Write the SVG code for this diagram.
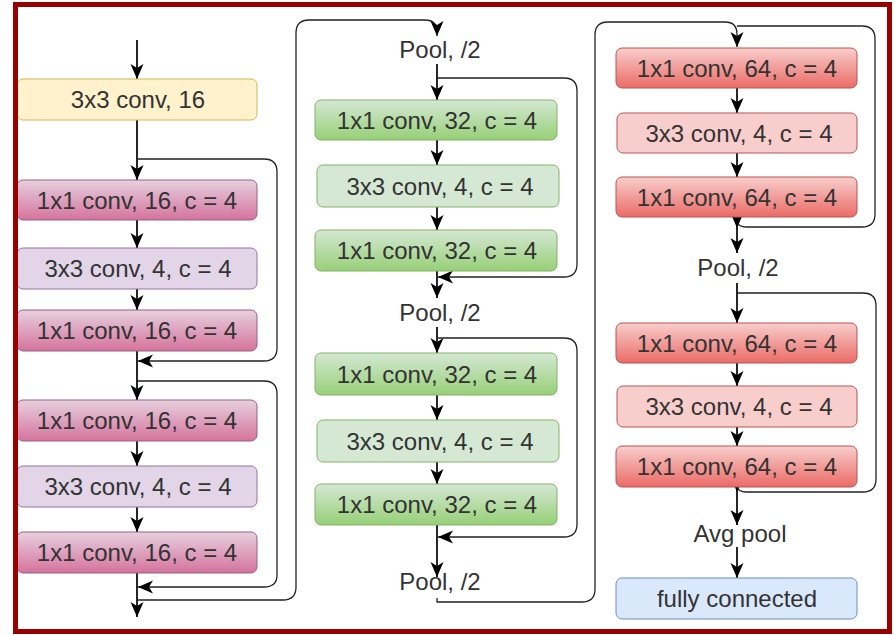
<svg xmlns="http://www.w3.org/2000/svg" width="895" height="635" viewBox="0 0 895 635">
<style>
.t{font-family:"Liberation Sans",Arial,sans-serif;font-size:24px;fill:#333;text-anchor:middle}
.main{fill:none;stroke:#000;stroke-width:1.7}
.skip{fill:none;stroke:#222;stroke-width:1.3}
</style>
<defs>
<marker id="ah" markerUnits="userSpaceOnUse" markerWidth="16" markerHeight="16" viewBox="0 0 16 16" refX="15" refY="8" orient="auto">
<path d="M0,1.5 L15,8 L0,14.5 L4,8 Z" fill="#000"/>
</marker>
<linearGradient id="gPink" x1="0" y1="0" x2="0" y2="1"><stop offset="0" stop-color="#e6d0de"/><stop offset="1" stop-color="#d5739d"/></linearGradient>
<linearGradient id="gGreen" x1="0" y1="0" x2="0" y2="1"><stop offset="0" stop-color="#d5e8d4"/><stop offset="1" stop-color="#97d077"/></linearGradient>
<linearGradient id="gRed" x1="0" y1="0" x2="0" y2="1"><stop offset="0" stop-color="#f8cecc"/><stop offset="1" stop-color="#ea6b66"/></linearGradient>
</defs>
<rect x="0" y="0" width="895" height="635" fill="#fff"/>

<g id="connectors">
<!-- column 1 -->
<path class="main" d="M137,40 V79" marker-end="url(#ah)"/>
<path class="main" d="M137,120 V180" marker-end="url(#ah)"/>
<path class="main" d="M137,220 V248" marker-end="url(#ah)"/>
<path class="main" d="M137,289 V310" marker-end="url(#ah)"/>
<path class="main" d="M137,351 V400" marker-end="url(#ah)"/>
<path class="main" d="M137,441 V466" marker-end="url(#ah)"/>
<path class="main" d="M137,507 V532" marker-end="url(#ah)"/>
<path class="main" d="M137,573 V617" marker-end="url(#ah)"/>
<path class="skip" d="M137,159 H264 Q277,159 277,172 V348 Q277,361 264,361 H138" marker-end="url(#ah)"/>
<path class="skip" d="M137,381 H264 Q277,381 277,394 V575 Q277,587 264,587 H138" marker-end="url(#ah)"/>
<path class="skip" d="M137,600 H283 Q296,600 296,587 V33 Q296,20 309,20 H425 Q437,20 437,32 V36" marker-end="url(#ah)"/>
<!-- column 2 -->
<path class="main" d="M437,64 V100" marker-end="url(#ah)"/>
<path class="main" d="M437,140 V165" marker-end="url(#ah)"/>
<path class="main" d="M437,207 V230" marker-end="url(#ah)"/>
<path class="main" d="M437,271 V298" marker-end="url(#ah)"/>
<path class="skip" d="M437,78 H564 Q577,78 577,91 V264 Q577,277 564,277 H438" marker-end="url(#ah)"/>
<path class="main" d="M437,327 V353" marker-end="url(#ah)"/>
<path class="main" d="M437,395 V420" marker-end="url(#ah)"/>
<path class="main" d="M437,462 V484" marker-end="url(#ah)"/>
<path class="main" d="M437,525 V577" marker-end="url(#ah)"/>
<path class="skip" d="M437,338 H564 Q577,338 577,351 V524 Q577,537 564,537 H438" marker-end="url(#ah)"/>
<path class="skip" d="M437,598 V602 H582 Q595,602 595,589 V35 Q595,22 608,22 H725 Q737,22 737,34 V47" marker-end="url(#ah)"/>
<!-- column 3 -->
<path class="main" d="M737,88 V113" marker-end="url(#ah)"/>
<path class="main" d="M737,153 V177" marker-end="url(#ah)"/>
<path class="skip" d="M737,26 H862 Q875,26 875,39 V214 Q875,227 862,227 H746 Q739,227 737,222"/>
<path class="main" d="M737,213 V228" marker-end="url(#ah)"/>
<path class="main" d="M737,228 V253" marker-end="url(#ah)"/>
<path class="main" d="M737,283 V323" marker-end="url(#ah)"/>
<path class="main" d="M737,363 V386" marker-end="url(#ah)"/>
<path class="main" d="M737,427 V446" marker-end="url(#ah)"/>
<path class="skip" d="M737,293 H863 Q876,293 876,306 V479 Q876,492 863,492 H746 Q739,492 737,487"/>
<path class="main" d="M737,477 V492" marker-end="url(#ah)"/>
<path class="main" d="M737,492 V525" marker-end="url(#ah)"/>
<path class="main" d="M737,547 V578" marker-end="url(#ah)"/>
</g>

<g id="n_conv3x3_16"><rect x="17" y="79" width="240" height="41" rx="6" fill="#fff2cc" stroke="#d6b656"/><text class="t" x="138" y="108">3x3 conv, 16</text></g>
<g id="n_a1"><rect x="17" y="180" width="240" height="40" rx="6" fill="url(#gPink)" stroke="#996185"/><text class="t" x="137" y="208.5">1x1 conv, 16, c = 4</text></g>
<g id="n_a2"><rect x="17" y="248" width="240" height="41" rx="6" fill="#e1d5e7" stroke="#9673a6"/><text class="t" x="138" y="277">3x3 conv, 4, c = 4</text></g>
<g id="n_a3"><rect x="17" y="310" width="240" height="41" rx="6" fill="url(#gPink)" stroke="#996185"/><text class="t" x="137" y="339">1x1 conv, 16, c = 4</text></g>
<g id="n_b1"><rect x="17" y="400" width="240" height="41" rx="6" fill="url(#gPink)" stroke="#996185"/><text class="t" x="137" y="429">1x1 conv, 16, c = 4</text></g>
<g id="n_b2"><rect x="17" y="466" width="240" height="41" rx="6" fill="#e1d5e7" stroke="#9673a6"/><text class="t" x="138" y="495">3x3 conv, 4, c = 4</text></g>
<g id="n_b3"><rect x="17" y="532" width="240" height="41" rx="6" fill="url(#gPink)" stroke="#996185"/><text class="t" x="137" y="561">1x1 conv, 16, c = 4</text></g>

<g id="n_pool1"><text class="t" x="440" y="58">Pool, /2</text></g>
<g id="n_c1"><rect x="315" y="100" width="242" height="40" rx="6" fill="url(#gGreen)" stroke="#82b366"/><text class="t" x="437" y="128.5">1x1 conv, 32, c = 4</text></g>
<g id="n_c2"><rect x="317" y="165" width="242" height="42" rx="6" fill="#d5e8d4" stroke="#82b366"/><text class="t" x="440" y="194.5">3x3 conv, 4, c = 4</text></g>
<g id="n_c3"><rect x="315" y="230" width="242" height="41" rx="6" fill="url(#gGreen)" stroke="#82b366"/><text class="t" x="437" y="259">1x1 conv, 32, c = 4</text></g>
<g id="n_pool2"><text class="t" x="440" y="321">Pool, /2</text></g>
<g id="n_d1"><rect x="315" y="353" width="242" height="42" rx="6" fill="url(#gGreen)" stroke="#82b366"/><text class="t" x="437" y="382.5">1x1 conv, 32, c = 4</text></g>
<g id="n_d2"><rect x="317" y="420" width="242" height="42" rx="6" fill="#d5e8d4" stroke="#82b366"/><text class="t" x="440" y="449.5">3x3 conv, 4, c = 4</text></g>
<g id="n_d3"><rect x="315" y="484" width="242" height="41" rx="6" fill="url(#gGreen)" stroke="#82b366"/><text class="t" x="437" y="513">1x1 conv, 32, c = 4</text></g>
<g id="n_pool3"><text class="t" x="440" y="590">Pool, /2</text></g>

<g id="n_e1"><rect x="616" y="48" width="241" height="40" rx="6" fill="url(#gRed)" stroke="#b85450"/><text class="t" x="737" y="76.5">1x1 conv, 64, c = 4</text></g>
<g id="n_e2"><rect x="617" y="113" width="240" height="40" rx="6" fill="#f8cecc" stroke="#b85450"/><text class="t" x="739" y="141.5">3x3 conv, 4, c = 4</text></g>
<g id="n_e3"><rect x="616" y="177" width="241" height="40" rx="6" fill="url(#gRed)" stroke="#b85450"/><text class="t" x="737" y="205.5">1x1 conv, 64, c = 4</text></g>
<g id="n_pool4"><text class="t" x="738" y="276">Pool, /2</text></g>
<g id="n_f1"><rect x="616" y="323" width="241" height="40" rx="6" fill="url(#gRed)" stroke="#b85450"/><text class="t" x="737" y="351.5">1x1 conv, 64, c = 4</text></g>
<g id="n_f2"><rect x="617" y="386" width="240" height="41" rx="6" fill="#f8cecc" stroke="#b85450"/><text class="t" x="739" y="415">3x3 conv, 4, c = 4</text></g>
<g id="n_f3"><rect x="616" y="446" width="241" height="41" rx="6" fill="url(#gRed)" stroke="#b85450"/><text class="t" x="737" y="475">1x1 conv, 64, c = 4</text></g>
<g id="n_avg"><text class="t" x="740" y="542">Avg pool</text></g>
<g id="n_fc"><rect x="616" y="578" width="241" height="41" rx="6" fill="#dae8fc" stroke="#6c8ebf"/><text class="t" x="737" y="607">fully connected</text></g>

<rect x="15.5" y="4.5" width="874" height="627" fill="none" stroke="#990000" stroke-width="5"/>
</svg>
